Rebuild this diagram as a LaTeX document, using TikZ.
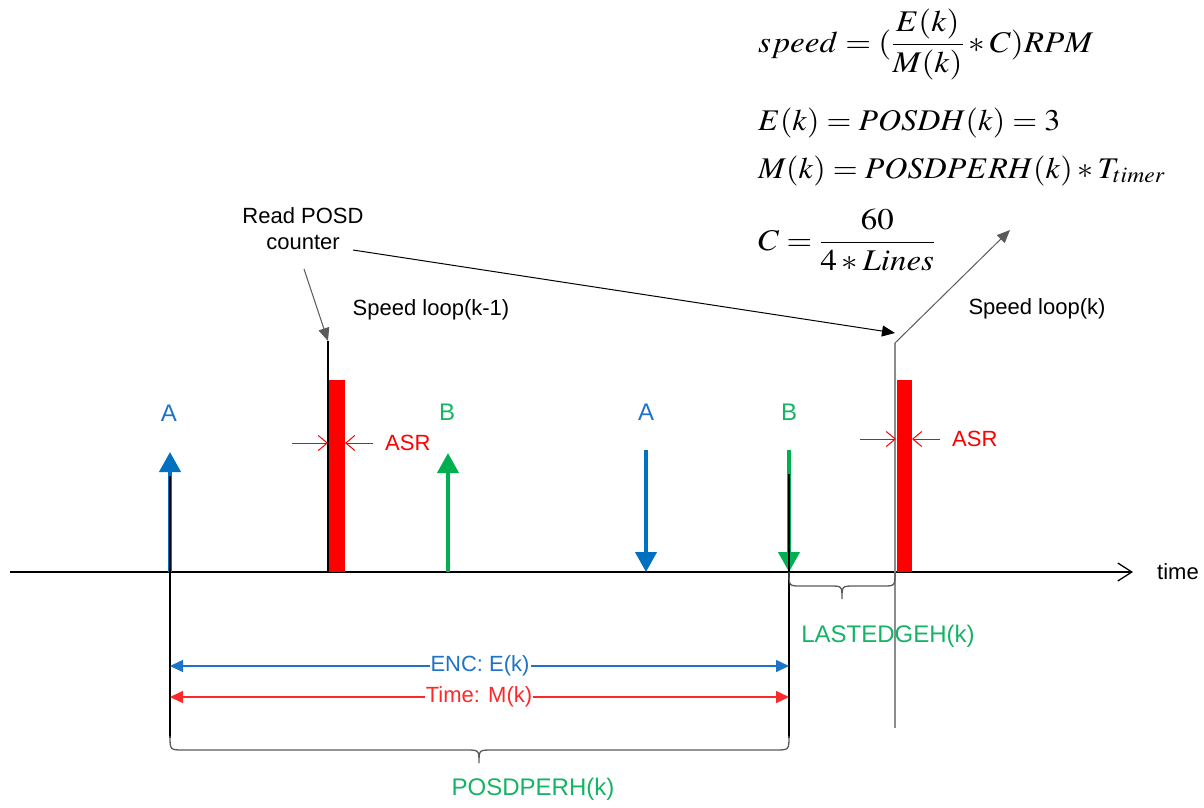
\documentclass[tikz,border=0pt]{standalone}
\usepackage{amsmath}
\usepackage{mathptmx}
\usepackage[no-math]{fontspec}
\setmainfont{Liberation Sans}
\usetikzlibrary{arrows.meta}
\definecolor{eblue}{RGB}{0,112,192}
\definecolor{egreen}{RGB}{0,176,80}
\definecolor{tgreen}{RGB}{20,180,100}
\definecolor{tblue}{RGB}{30,115,200}
\definecolor{lred}{RGB}{255,40,40}
\definecolor{dgray}{RGB}{90,90,90}
\definecolor{mgray}{RGB}{140,140,140}
\begin{document}
\begin{tikzpicture}[x=1pt,y=-1pt,
  lbl/.style={font=\fontsize{22}{26}\selectfont, inner sep=0pt},
  big/.style={font=\fontsize{24}{28}\selectfont, inner sep=0pt},
  eq/.style={font=\fontsize{30}{34}\selectfont, inner sep=0pt, anchor=base west},
  sig/.style={line width=4pt, -{Triangle[length=20pt,width=21pt]}},
  asr/.style={red, line width=1pt, -{Straight Barb[length=9pt,width=15pt,line width=1pt]}},
  ptr/.style={line width=1pt, -{Triangle[length=13pt,width=11pt]}},
  meas/.style={line width=1.5pt, {Triangle[length=13pt,width=12pt]}-{Triangle[length=13pt,width=12pt]}},
  bar/.style={fill=red, draw=none},
  bracecurve/.style={dgray, line width=1.3pt},
  ]
\useasboundingbox (0,0) rectangle (1204,807);

% coordinates
\coordinate (axL) at (10,572);
\coordinate (axR) at (1133,572);
\coordinate (A1b) at (170,572);   \coordinate (A1t) at (170,452);
\coordinate (B1b) at (448,572);   \coordinate (B1t) at (448,453);
\coordinate (A2t) at (646,450);   \coordinate (A2b) at (646,572);
\coordinate (B2t) at (789,450);   \coordinate (B2b) at (789,572);
\coordinate (S1top) at (328,341);
\coordinate (S2top) at (895,343);
\coordinate (S2bot) at (895,728);

% time axis
\draw[line width=1.3pt, -{Straight Barb[length=14pt,width=18pt]}] (axL) -- (axR);
\node[lbl, anchor=west] (time) at (1157,572) {time};

% red bars (ASR)
\fill[bar] (328,380) rectangle (345,572);
\fill[bar] (897,380) rectangle (912,572);

% vertical speed-loop lines
\draw[line width=1.2pt] (S1top) -- (328,572);
\draw[mgray, line width=1.5pt] (S2top) -- (S2bot);

% ASR arrows
\coordinate (a1l) at (292,443); \coordinate (a1r) at (373,443);
\draw[asr] (a1l) -- (328,443);
\draw[asr] (a1r) -- (345,443);
\node[lbl, red, anchor=west] (asr1) at (385,443) {ASR};
\coordinate (a2l) at (860,439); \coordinate (a2r) at (940,439);
\draw[asr] (a2l) -- (896,439);
\draw[asr] (a2r) -- (912,439);
\node[lbl, red, anchor=west] (asr2) at (952,439) {ASR};

% encoder edges
\draw[sig, eblue] (A1b) -- (A1t);
\draw[sig, egreen] (B1b) -- (B1t);
\draw[sig, eblue] (A2t) -- (A2b);
\draw[sig, egreen] (B2t) -- (B2b);
\node[big, tblue] (lA1) at (169,413) {A};
\node[big, tgreen] (lB1) at (447,412) {B};
\node[big, tblue] (lA2) at (646,412) {A};
\node[big, tgreen] (lB2) at (789,412) {B};

% big brace with legs
\draw[line width=1.2pt] (170,476) -- (170,738);
\draw[line width=1.2pt] (789,474) -- (789,738);
\draw[bracecurve] (170,736) .. controls (170,750) .. (184,750) -- (466,750)
  .. controls (479,750) .. (479,763) .. controls (479,750) .. (492,750)
  -- (775,750) .. controls (789,750) .. (789,736);
\node[big, tgreen] (posdperh) at (533,789) {POSDPERH(k)};

% small brace
\draw[bracecurve] (B2b) .. controls (789,586) .. (801,586) -- (830,586)
  .. controls (842,586) .. (842,599) .. controls (842,586) .. (854,586)
  -- (883,586) .. controls (895,586) .. (895,572);
\node[big, tgreen] (lastedge) at (888,636) {LASTEDGEH(k)};

% measurement arrows
\coordinate (encL) at (170,666); \coordinate (encR) at (789,666);
\draw[meas, tblue] (encL) -- (encR);
\node[lbl, tblue, fill=white, inner xsep=1pt, inner ysep=2pt] (enc) at (480,666) {ENC: E(k)};
\coordinate (tmL) at (170,697); \coordinate (tmR) at (789,697);
\draw[meas, lred] (tmL) -- (tmR);
\node[lbl, lred, fill=white, inner xsep=1pt, inner ysep=2pt] (tm) at (479,697) {Time: M(k)};

% labels
\node[lbl, align=center] (rp) at (303,229) {Read POSD\\counter};
\node[lbl] (sl1) at (431,310) {Speed loop(k-1)};
\node[lbl] (sl2) at (1037,309) {Speed loop(k)};

% pointer arrows
\coordinate (rpA) at (304,269);
\coordinate (rpB) at (353,250);
\coordinate (S2ptr) at (895,333);
\coordinate (upEnd) at (1010,230);
\draw[ptr, dgray] (rpA) -- (S1top);
\draw[ptr, black] (rpB) -- (S2ptr);
\draw[ptr, dgray] (S2top) -- (upEnd);

% equations
\node[eq] (eq1) at (758,52) {\resizebox{335pt}{\height}{$speed=(\dfrac{E(k)}{M(k)}*C)RPM$}};
\node[eq] (eq2) at (758,130) {\resizebox{302pt}{\height}{$E(k)=POSDH(k)=3$}};
\node[eq] (eq3) at (758,178) {\resizebox{407pt}{\height}{$M(k)=POSDPERH(k)*T_{timer}$}};
\node[eq] (eq4) at (758,250) {\resizebox{177pt}{\height}{$C=\dfrac{60}{4*Lines}$}};
\end{tikzpicture}
\end{document}
